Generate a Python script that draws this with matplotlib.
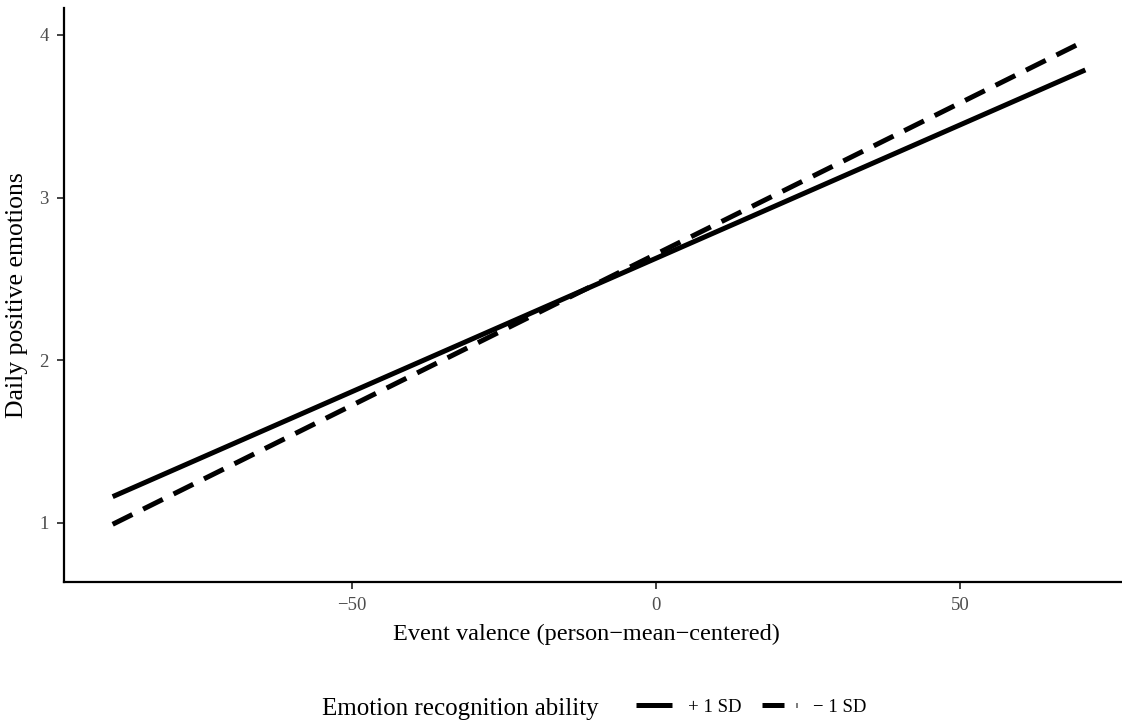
import numpy as np
import matplotlib
matplotlib.use("Agg")
import matplotlib.pyplot as plt
from matplotlib.lines import Line2D

plt.rcParams['font.family'] = ['Liberation Serif', 'DejaVu Serif']

# simple slopes: predicted positive emotions at the ends of the valence range
valence = [-89.3, 70.6]
high_sd = [1.16, 3.785]   # +1 SD emotion recognition
low_sd = [0.99, 3.965]    # -1 SD emotion recognition
group_labels = ['+ 1 SD', '\u2212 1 SD']
x_ticks = [-50, 0, 50]
y_ticks = [1, 2, 3, 4]

fig = plt.figure(figsize=(11.22, 7.26), dpi=100)
ax = fig.add_axes([64 / 1122, 144 / 726, 1070 / 1122, 574 / 726])

dash = (4.4, 2.4)
ax.plot(valence, high_sd, color='black', lw=3.6, solid_capstyle='butt')
ax.plot(valence, low_sd, color='black', lw=3.6, dashes=dash)

ax.set_xlim(-97.3, 78.6)
ax.set_ylim(0.635, 4.166)
ax.set_xticks(x_ticks)
ax.set_yticks(y_ticks)

for side in ['top', 'right']:
    ax.spines[side].set_visible(False)
for side in ['left', 'bottom']:
    ax.spines[side].set_linewidth(1.6)
ax.tick_params(colors='#333333', labelcolor='#4D4D4D', labelsize=13.5,
               width=1.3, length=5)
ax.tick_params(axis='x', pad=6)
ax.tick_params(axis='y', pad=6)

ax.set_xlabel('Event valence (person\u2212mean\u2212centered)', fontsize=17.5)
ax.xaxis.set_label_coords(0.488, -0.072)
ax.set_ylabel('Daily positive emotions', fontsize=18.5, labelpad=8)

# legend with title on the left, entries side by side
fig.text(322 / 1122, 11 / 726, 'Emotion recognition ability', fontsize=18,
         ha='left', va='baseline')
handles = [Line2D([], [], color='black', lw=3.6, solid_capstyle='butt'),
           Line2D([], [], color='black', lw=3.6, dashes=dash)]
fig.legend(handles, group_labels, loc='center left', bbox_to_anchor=(636 / 1122, 19 / 726),
           ncol=2, frameon=False, fontsize=13.5, handlelength=1.9,
           handletextpad=0.85, columnspacing=1.1, borderaxespad=0, borderpad=0)

fig.savefig('out.png', dpi=100)
